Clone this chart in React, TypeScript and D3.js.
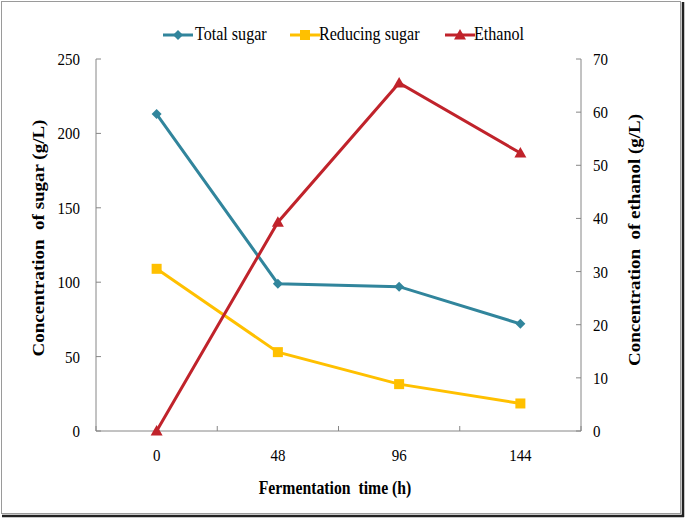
import React from "react";
import * as d3 from "d3";

const categories = ["0", "48", "96", "144"];
const totalSugar = [213, 99, 97, 72];
const reducingSugar = [109, 53, 31.5, 18.5];
const ethanol = [0, 39.3, 65.5, 52.3];
const leftTicks = [0, 50, 100, 150, 200, 250];
const rightTicks = [0, 10, 20, 30, 40, 50, 60, 70];

const W = 685, H = 518;
const L = 96, R = 581, T = 59, B = 431;
const FONT = "Liberation Serif, Tinos, Times New Roman, DejaVu Serif, serif";
const AXIS = "#868686";

function Txt(props: {
  x: number; y: number; anchor?: string; size: number; sx?: number; bold?: boolean;
  rotate?: boolean; dy?: string; children: React.ReactNode;
}) {
  const { x, y, anchor = "start", size, sx = 1, bold, rotate, dy = "0", children } = props;
  const tf = rotate ? `translate(${x},${y}) rotate(-90) scale(1,${sx})` : `translate(${x},${y}) scale(${sx},1)`;
  return (
    <text
      transform={tf}
      textAnchor={anchor as any}
      dy={dy}
      fill="#000"
      style={{ fontFamily: FONT, fontSize: `${size}px`, fontWeight: bold ? "bold" : "normal", whiteSpace: "pre" }}
    >
      {children}
    </text>
  );
}

export default function App() {
  const x = d3.scaleBand<string>().domain(categories).range([L, R]).padding(0);
  const cx = (c: string) => (x(c) as number) + x.bandwidth() / 2;
  const yL = d3.scaleLinear().domain([0, 250]).range([B, T]);
  const yR = d3.scaleLinear().domain([0, 70]).range([B, T]);

  const lineL = d3.line<number>().x((_, i) => cx(categories[i])).y((d) => yL(d));
  const lineR = d3.line<number>().x((_, i) => cx(categories[i])).y((d) => yR(d));

  const diamond = (px: number, py: number, s = 5) =>
    `M${px},${py - s}L${px + s},${py}L${px},${py + s}L${px - s},${py}Z`;
  const tri = (px: number, py: number, s = 6) =>
    `M${px},${py - s}L${px + s},${py + s * 0.75}L${px - s},${py + s * 0.75}Z`;

  const series = [
    { name: "Total sugar", color: "#31859C", lx: 163, tx: 195, marker: "diamond" },
    { name: "Reducing sugar", color: "#FFC000", lx: 290, tx: 319, marker: "square" },
    { name: "Ethanol", color: "#C0232B", lx: 445, tx: 474, marker: "tri" },
  ];

  const drawMarker = (kind: string, px: number, py: number, color: string, key: string) => {
    if (kind === "diamond") return <path key={key} d={diamond(px, py)} fill={color} />;
    if (kind === "square")
      return <rect key={key} x={px - 5} y={py - 5} width={10} height={10} fill={color} />;
    return <path key={key} d={tri(px, py)} fill={color} />;
  };

  const xTickPos = [...categories.map((c) => x(c) as number), R];

  return (
    <svg width={W} height={H} style={{ position: "absolute", left: 0, top: 0, background: "#fff" }}>
      <rect x={0} y={0} width={W} height={H} fill="#fff" />
      {/* frame */}
      <rect x={1.5} y={1.5} width={679} height={512} fill="none" stroke="#9a9a9a" strokeWidth={1} />
      <line x1={683} y1={2} x2={683} y2={517} stroke="#222" strokeWidth={2.5} />
      <line x1={2} y1={516} x2={684} y2={516} stroke="#222" strokeWidth={2.5} />

      {/* axes */}
      <line x1={L} y1={T} x2={L} y2={B} stroke={AXIS} strokeWidth={1} />
      <line x1={R} y1={T} x2={R} y2={B} stroke={AXIS} strokeWidth={1} />
      <line x1={L} y1={B} x2={R} y2={B} stroke={AXIS} strokeWidth={1} />
      {leftTicks.map((t) => (
        <g key={"l" + t}>
          <line x1={L} x2={L + 5} y1={yL(t)} y2={yL(t)} stroke={AXIS} />
          <Txt x={80} y={yL(t)} dy="0.35em" anchor="end" size={17} sx={0.88}>{String(t)}</Txt>
        </g>
      ))}
      {rightTicks.map((t) => (
        <g key={"r" + t}>
          <line x1={R - 5} x2={R} y1={yR(t)} y2={yR(t)} stroke={AXIS} />
          <Txt x={593} y={yR(t)} dy="0.35em" anchor="start" size={17} sx={0.88}>{String(t)}</Txt>
        </g>
      ))}
      {xTickPos.map((p, i) => (
        <line key={"x" + i} x1={p} x2={p} y1={B} y2={B - 5} stroke={AXIS} />
      ))}
      {categories.map((c) => (
        <Txt key={"c" + c} x={cx(c)} y={455} dy="0.35em" anchor="middle" size={17} sx={0.88}>{c}</Txt>
      ))}

      {/* titles */}
      <Txt x={335} y={494} anchor="middle" size={19} sx={0.83} bold>{"Fermentation  time (h)"}</Txt>
      <Txt x={44} y={238} anchor="middle" size={19} sx={0.83} bold rotate>{"Concentration  of sugar (g/L)"}</Txt>
      <Txt x={640} y={240} anchor="middle" size={19} sx={0.83} bold rotate>{"Concentration  of ethanol (g/L)"}</Txt>

      {/* series */}
      <path d={lineL(totalSugar) as string} fill="none" stroke="#31859C" strokeWidth={3} />
      <path d={lineL(reducingSugar) as string} fill="none" stroke="#FFC000" strokeWidth={3} />
      <path d={lineR(ethanol) as string} fill="none" stroke="#C0232B" strokeWidth={3} />
      {totalSugar.map((v, i) => drawMarker("diamond", cx(categories[i]), yL(v), "#31859C", "ts" + i))}
      {reducingSugar.map((v, i) => drawMarker("square", cx(categories[i]), yL(v), "#FFC000", "rs" + i))}
      {ethanol.map((v, i) => drawMarker("tri", cx(categories[i]), yR(v), "#C0232B", "et" + i))}

      {/* legend */}
      {series.map((s) => (
        <g key={s.name}>
          <line x1={s.lx} x2={s.lx + 30} y1={35} y2={35} stroke={s.color} strokeWidth={3} />
          {drawMarker(s.marker, s.lx + 15, 35, s.color, "lg" + s.name)}
          <Txt x={s.tx} y={39.5} size={18.5} sx={0.87}>{s.name}</Txt>
        </g>
      ))}
    </svg>
  );
}
